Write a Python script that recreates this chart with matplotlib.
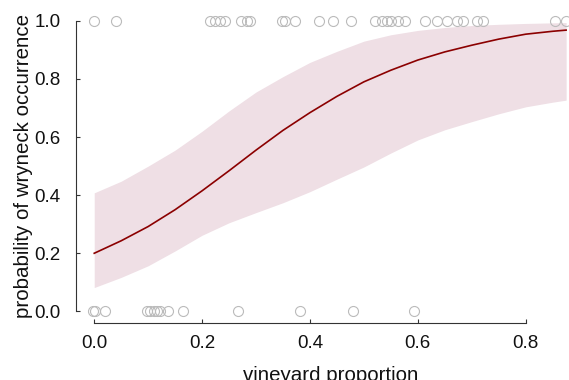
import matplotlib
matplotlib.use("Agg")
import matplotlib.pyplot as plt

# ---- data ----
occ_x_present = [0.000, 0.040, 0.215, 0.224, 0.233, 0.243, 0.273, 0.283, 0.289,
                 0.349, 0.354, 0.373, 0.417, 0.443, 0.477,
                 0.520, 0.533, 0.542, 0.551, 0.564, 0.576,
                 0.613, 0.635, 0.654, 0.672, 0.684, 0.709, 0.721,
                 0.854, 0.875]
occ_x_absent = [-0.002, 0.002, 0.020, 0.098, 0.104, 0.110, 0.116, 0.122,
                0.136, 0.165, 0.266, 0.381, 0.479, 0.593]

fit_x = [0.00, 0.05, 0.10, 0.15, 0.20, 0.25, 0.30, 0.35, 0.40, 0.45,
         0.50, 0.55, 0.60, 0.65, 0.70, 0.75, 0.80, 0.85, 0.875]
fit_p = [0.200, 0.243, 0.292, 0.350, 0.415, 0.484, 0.555, 0.623, 0.684, 0.740,
         0.790, 0.830, 0.865, 0.893, 0.916, 0.937, 0.954, 0.964, 0.968]
fit_lo = [0.082, 0.117, 0.157, 0.208, 0.262, 0.305, 0.340, 0.374, 0.412, 0.455,
          0.497, 0.545, 0.590, 0.625, 0.653, 0.680, 0.704, 0.720, 0.727]
fit_hi = [0.408, 0.448, 0.500, 0.555, 0.620, 0.690, 0.755, 0.808, 0.857, 0.895,
          0.930, 0.952, 0.967, 0.977, 0.984, 0.988, 0.991, 0.993, 0.994]

x_ticks = [0.0, 0.2, 0.4, 0.6, 0.8]
y_ticks = [0.0, 0.2, 0.4, 0.6, 0.8, 1.0]

plt.rcParams['font.family'] = ['Liberation Sans', 'DejaVu Sans']

W, H = 569, 380
fig = plt.figure(figsize=(W / 100, H / 100), dpi=100)
left_px, right_px, top_px, bot_px = 76, 585, 9.2, 323
ax = fig.add_axes([left_px / W, 1 - bot_px / H,
                   (right_px - left_px) / W, (bot_px - top_px) / H])

ax.fill_between(fit_x, fit_lo, fit_hi, color='#EFDFE5', lw=0, zorder=1)
ax.plot(fit_x, fit_p, color='#8B0000', lw=1.2, zorder=2)

gray = '#BBBBBB'
ax.plot(occ_x_present, [1.0] * len(occ_x_present), 'o', ms=7.2, mfc='none',
        mec=gray, mew=0.8, zorder=3, clip_on=False)
ax.plot(occ_x_absent, [0.0] * len(occ_x_absent), 'o', ms=7.2, mfc='none',
        mec=gray, mew=0.8, zorder=3, clip_on=False)

ax.set_xlim(-0.0338, 0.91)
ax.set_ylim(-0.04, 1.04)

for s in ['top', 'right']:
    ax.spines[s].set_visible(False)
ax.spines['left'].set_bounds(0, 1)
ax.spines['bottom'].set_bounds(0, 0.8)
for s in ['left', 'bottom']:
    ax.spines[s].set_color('#333333')
    ax.spines[s].set_linewidth(0.8)

ax.set_xticks(x_ticks)
ax.set_xticklabels([f"{v:.1f}" for v in x_ticks])
ax.set_yticks(y_ticks)
ax.set_yticklabels([f"{v:.1f}" for v in y_ticks])
ax.tick_params(axis='both', direction='in', length=3, width=0.8,
               color='#333333', labelsize=13.5, labelcolor='#111111')
ax.tick_params(axis='x', pad=9)
ax.tick_params(axis='y', pad=11)

ax.set_xlabel('vineyard proportion', fontsize=14.8, color='#111111', labelpad=10)
ax.set_ylabel('probability of wryneck occurrence', fontsize=14.8,
              color='#111111', labelpad=1)

fig.savefig('out.png', dpi=100)
